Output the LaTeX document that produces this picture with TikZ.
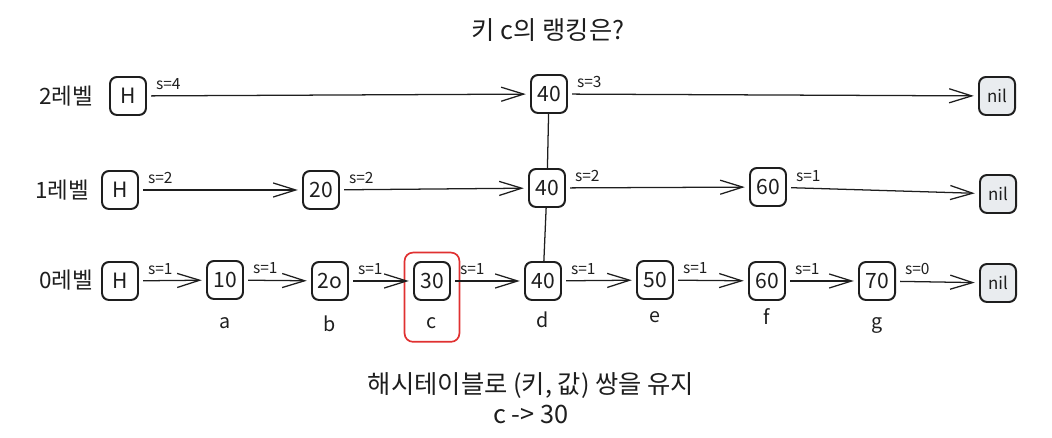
\documentclass[tikz,border=0pt]{standalone}
\usepackage{fontspec}
\setmainfont{Noto Sans CJK KR}
\usetikzlibrary{arrows.meta, positioning, fit}
\definecolor{inkblack}{HTML}{1E1E1E}
\definecolor{nilgray}{HTML}{E9ECEF}
\definecolor{markred}{HTML}{E03131}

\begin{document}
\begin{tikzpicture}[x=0.025cm, y=-0.025cm, every node/.style={text=inkblack},
    keybox/.style={rectangle, draw=inkblack, line width=1.4pt, rounded corners=5pt, minimum width=0.9cm, minimum height=0.95cm, inner sep=1pt, font=\fontsize{15}{17}\selectfont},
    nilbox/.style={keybox, fill=nilgray, font=\fontsize{12}{14}\selectfont},
    levellabel/.style={anchor=east, font=\fontsize{16}{18}\selectfont},
    slabel/.style={anchor=south west, inner sep=1pt, xshift=5pt, yshift=3pt, font=\fontsize{11}{13}\selectfont},
    namelabel/.style={font=\fontsize{14}{16}\selectfont},
    arrow/.style={-{Straight Barb[length=16pt, width=10pt]}, line width=0.9pt, color=inkblack, shorten >=3pt, shorten <=3pt},
    link/.style={line width=0.9pt, color=inkblack}]

  \useasboundingbox (0,0) rectangle (1052,438);

  \node [font=\fontsize{18}{21}\selectfont] (title) at (548,30) {키 c의 랭킹은?};

  % level 2
  \node [levellabel] (lv2) at (98,96) {2레벨};
  \node [keybox] (h2) at (128,96) {H};
  \node [keybox] (n240) at (549,94) {40};
  \node [nilbox] (nil2) at (997,96) {nil};

  % level 1
  \node [levellabel] (lv1) at (94,190) {1레벨};
  \node [keybox] (h1) at (120,190) {H};
  \node [keybox] (n120) at (321,190) {20};
  \node [keybox] (n140) at (547,188) {40};
  \node [keybox] (n160) at (768,187) {60};
  \node [nilbox] (nil1) at (998,194) {nil};

  % level 0
  \node [levellabel] (lv0) at (98,280) {0레벨};
  \node [keybox] (h0) at (120,281) {H};
  \node [keybox] (n010) at (225,280) {10};
  \node [keybox] (n020) at (330,281) {2o};
  \node [keybox] (n030) at (432,281) {30};
  \node [keybox] (n040) at (543,281) {40};
  \node [keybox] (n050) at (655,280) {50};
  \node [keybox] (n060) at (767,281) {60};
  \node [keybox] (n070) at (877,281) {70};
  \node [nilbox] (nil0) at (998,283) {nil};

  \node [namelabel, below=9pt of n010] (la) {a};
  \node [namelabel, below=7pt of n020] (lb) {b};
  \node [namelabel, below=8pt of n030] (lc) {c};
  \node [namelabel, below=4pt of n040] (ld) {d};
  \node [namelabel, below=5pt of n050] (le) {e};
  \node [namelabel, below=2pt of n060] (lf) {f};
  \node [namelabel, below=8pt of n070] (lg) {g};

  \node [draw=markred, line width=1.2pt, rounded corners=6pt, fit=(n030)(lc), inner sep=6pt] (mark) {};

  \draw [link] (n240) -- (n140);
  \draw [link] (n140) -- (n040);

  \draw [arrow] (h2) -- node [slabel, at start] {s=4} (n240);
  \draw [arrow] (n240) -- node [slabel, at start] {s=3} (nil2);

  \draw [arrow] (h1) -- node [slabel, at start] {s=2} (n120);
  \draw [arrow] (n120) -- node [slabel, at start] {s=2} (n140);
  \draw [arrow] (n140) -- node [slabel, at start] {s=2} (n160);
  \draw [arrow] (n160) -- node [slabel, at start] {s=1} (nil1);

  \draw [arrow] (h0) -- node [slabel, at start] {s=1} (n010);
  \draw [arrow] (n010) -- node [slabel, at start] {s=1} (n020);
  \draw [arrow] (n020) -- node [slabel, at start] {s=1} (n030);
  \draw [arrow] (n030) -- node [slabel, at start] {s=1} (n040);
  \draw [arrow] (n040) -- node [slabel, at start] {s=1} (n050);
  \draw [arrow] (n050) -- node [slabel, at start] {s=1} (n060);
  \draw [arrow] (n060) -- node [slabel, at start] {s=1} (n070);
  \draw [arrow] (n070) -- node [slabel, at start] {s=0} (nil0);

  \node [align=center, font=\fontsize{18}{21}\selectfont] (note) at (531,398) {해시테이블로 (키, 값) 쌍을 유지\\c -> 30};
\end{tikzpicture}
\end{document}
